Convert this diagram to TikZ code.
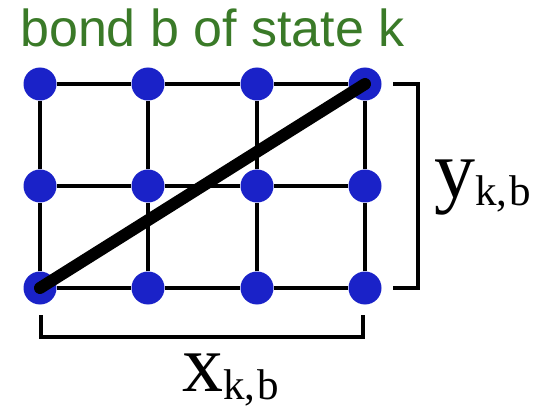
\documentclass[tikz,border=0pt]{standalone}
\usepackage{fontspec}
\setmainfont{Liberation Serif}
\newfontfamily\titlefont{Liberation Sans}
\usetikzlibrary{calc}

\newcommand{\lenlabel}[3]{{\fontsize{82}{84}\selectfont #1}\raisebox{-#3pt}{\fontsize{43}{44}\selectfont #2}}

\begin{document}
\begin{tikzpicture}[
  x=1pt, y=-1pt,
  site/.style={circle, fill=DotBlue, minimum size=33pt, inner sep=0pt},
  lattice/.style={line width=3.6pt, draw=black},
  bond/.style={line width=12pt, draw=black, line cap=round},
  bracket/.style={line width=4.5pt, draw=black},
  label/.style={inner sep=0pt, anchor=base west}
]
\definecolor{DotBlue}{HTML}{1A22C8}
\definecolor{TitleGreen}{HTML}{3A7A28}
\useasboundingbox (0,0) rectangle (560,409);

\node[label, text=TitleGreen, font=\titlefont\fontsize{52}{54}\selectfont] (title) at (20,47) {bond b of state k};

% sites, column then row (row 1 at the bottom)
\node[site] (s11) at (40,288) {};
\node[site] (s21) at (148,288) {};
\node[site] (s31) at (257,288) {};
\node[site] (s41) at (365,288) {};
\node[site] (s12) at (40,186) {};
\node[site] (s22) at (148,186) {};
\node[site] (s32) at (257,186) {};
\node[site] (s42) at (365,186) {};
\node[site] (s13) at (40,84) {};
\node[site] (s23) at (148,84) {};
\node[site] (s33) at (257,84) {};
\node[site] (s43) at (365,84) {};

\draw[lattice] (s11) -- (s21) -- (s31) -- (s41);
\draw[lattice] (s12) -- (s22) -- (s32) -- (s42);
\draw[lattice] (s13) -- (s23) -- (s33) -- (s43);
\draw[lattice] (s11) -- (s12) -- (s13);
\draw[lattice] (s21) -- (s22) -- (s23);
\draw[lattice] (s31) -- (s32) -- (s33);
\draw[lattice] (s41) -- (s42) -- (s43);

\draw[bond] (s11.center) -- (s43.center);

% extent brackets
\draw[bracket] ($(s43.center)+(28,0)$) -- ++(25,0) |- ($(s41.center)+(28,0)$);
\draw[bracket] ($(s11.center)+(1,27)$) |- ($(s41.center)+(-2,49)$) -- ++(0,-22);

\node[label] (ylen) at (434,197) {\lenlabel{y}{k,\kern2pt b}{8}};
\node[label] (xlen) at (182,391) {\lenlabel{x}{k,\kern2pt b}{8}};
\end{tikzpicture}
\end{document}
